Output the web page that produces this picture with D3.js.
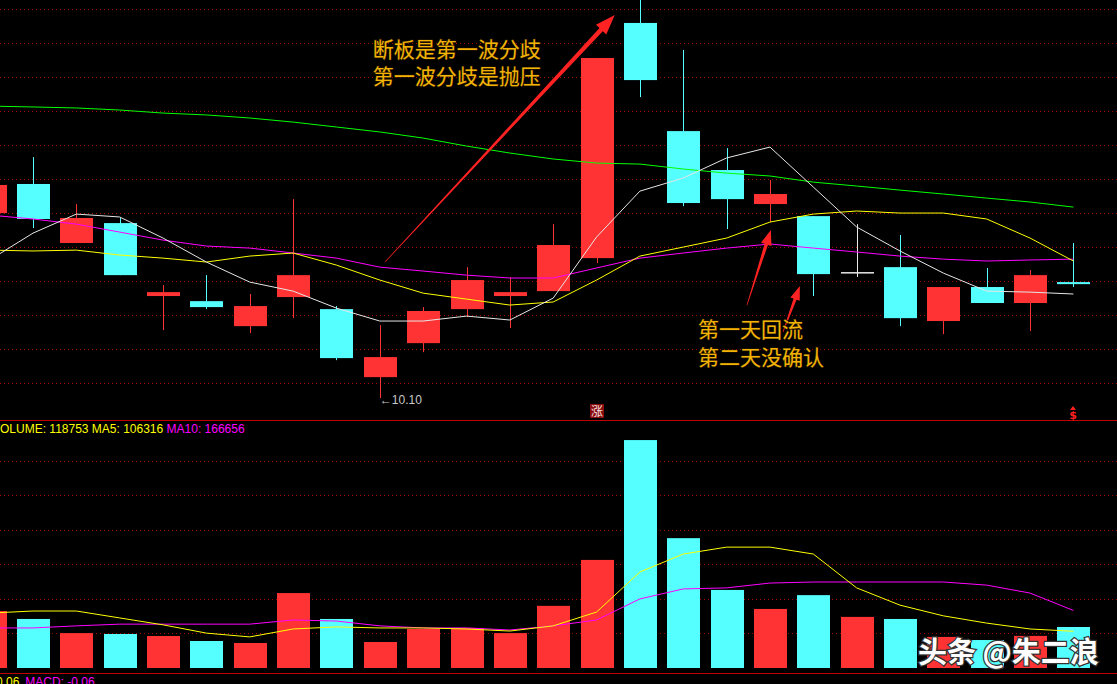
<!DOCTYPE html>
<html><head><meta charset="utf-8">
<script src="https://cdn.jsdelivr.net/npm/d3@7/dist/d3.min.js"></script>
<style>html,body{margin:0;padding:0;background:#000;overflow:hidden}</style>
</head><body><svg id="c" width="1117" height="684"></svg>
<script>
// ---------- DATA ----------
const days   = d3.range(26);
const opens  = [11.188,11.359,11.012,11.129,10.700,10.670,10.523,10.694,10.623,10.223,10.423,10.623,10.700,10.729,10.923,12.306,11.670,11.441,11.241,11.170,10.841,10.870,10.553,10.753,10.659,10.782];
const highs  = [11.382,11.517,11.241,11.159,10.765,10.823,10.712,11.270,10.641,10.529,10.635,10.870,10.812,11.123,12.100,12.470,12.147,11.570,11.382,11.170,11.123,11.059,10.753,10.865,10.853,11.012];
const lows   = [11.170,11.100,11.012,10.823,10.500,10.623,10.482,10.570,10.323,10.100,10.370,10.576,10.512,10.729,10.894,11.870,11.229,11.094,11.135,10.700,10.812,10.523,10.476,10.659,10.494,10.753];
const closes = [11.353,11.153,11.159,10.823,10.723,10.635,10.641,10.823,10.335,10.341,10.612,10.794,10.723,11.000,12.100,11.970,11.247,11.270,11.300,10.829,10.841,10.570,10.753,10.659,10.823,10.770];
const ma5    = [10.912,11.070,11.182,11.165,11.041,10.900,10.782,10.729,10.629,10.553,10.553,10.582,10.559,10.688,11.047,11.317,11.394,11.512,11.576,11.341,11.106,10.965,10.835,10.729,10.723,10.712];
const ma10   = [10.970,10.965,10.970,10.941,10.923,10.900,10.935,10.953,10.882,10.794,10.717,10.682,10.647,10.665,10.794,10.935,10.988,11.041,11.135,11.182,11.200,11.188,11.188,11.153,11.041,10.906];
const ma20   = [11.176,11.153,11.123,11.076,11.029,10.994,10.982,10.953,10.923,10.870,10.847,10.823,10.806,10.806,10.865,10.923,10.953,10.982,11.006,10.982,10.959,10.935,10.917,10.906,10.912,10.917];
const ma60   = [11.817,11.812,11.806,11.794,11.776,11.765,11.747,11.723,11.694,11.665,11.629,11.582,11.541,11.506,11.482,11.476,11.447,11.423,11.406,11.370,11.347,11.323,11.300,11.276,11.253,11.223];
const volumes = [165000,142000,101000,98500,92700,78200,72400,217000,142000,75300,113000,116000,101000,180000,313000,660000,376000,226000,171000,211000,148000,142000,90000,81000,93000,118753];
const volMa5  = [159000,165000,165000,145000,125000,101000,90000,113000,119000,116000,116000,113000,107000,122000,162000,278000,330000,350000,350000,330000,232000,182000,151000,130000,113000,106316];
const volMa10 = [116000,116000,122000,127000,127000,127000,127000,139000,136000,122000,116000,116000,110000,122000,139000,200000,229000,232000,246000,249000,249000,249000,249000,240000,217000,166656];
const priceGrid = [10.19,10.39,10.59,10.79,10.99,11.19,11.39,11.59,11.79,11.99,12.19,12.39];
const volGrid   = [100000,200000,300000,400000,500000,600000];
const lowLabel = "10.10";
const volLegend = {vol:"118753", ma5:"106316", ma10:"166656"};
const macdLegend = {a:"0.06", macd:"-0.06"};
const notes = [
  {lines:["断板是第一波分歧","第一波分歧是抛压"], i:8.84, p:12.106},
  {lines:["第一天回流","第二天没确认"], i:16.34, p:10.459}
];
const arrows = [
  {from:[9.12,10.90], to:[14.42,12.353]},
  {from:[17.47,10.647], to:[18.02,11.088]},
  {from:[18.30,10.488], to:[18.69,10.759]}
];
const watermark = "头条 @朱二浪";

// ---------- SCALES ----------
const W = 1117, H = 684;
const RED = "#ff3333", CYAN = "#55ffff";
const x = d3.scaleLinear().domain([0,25]).range([-10.35, 1073.4]);
const y = d3.scaleLinear().domain([9.971, 12.441]).range([420, 0]);
const yv = d3.scaleLinear().domain([0, 600000]).range([668, 460.8]);
const bw = 33;

const svg = d3.select("#c");
svg.append("rect").attr("width",W).attr("height",H).attr("fill","#000");

// grids
svg.append("g").selectAll("line").data(priceGrid).join("line")
  .attr("x1",0).attr("x2",W).attr("y1",d=>Math.round(y(d))+0.5).attr("y2",d=>Math.round(y(d))+0.5)
  .attr("stroke","#a00000").attr("stroke-dasharray","1,3");
svg.append("g").selectAll("line").data(volGrid).join("line")
  .attr("x1",0).attr("x2",W).attr("y1",d=>Math.round(yv(d))+0.5).attr("y2",d=>Math.round(yv(d))+0.5)
  .attr("stroke","#a00000").attr("stroke-dasharray","1,3");

// separators
svg.append("line").attr("x1",0).attr("x2",W).attr("y1",420.5).attr("y2",420.5).attr("stroke","#c00000");
svg.append("line").attr("x1",0).attr("x2",W).attr("y1",673.5).attr("y2",673.5).attr("stroke","#c00000");

// candle colors
const candleColor = i => closes[i] > opens[i] ? RED : (closes[i] < opens[i] ? CYAN : "#e8e8e8");
const volColor = i => closes[i] > opens[i] ? RED : (closes[i] < opens[i] ? CYAN : (i>0 && closes[i] >= closes[i-1] ? RED : CYAN));

const gC = svg.append("g");
gC.selectAll("line").data(days).join("line")
  .attr("x1",i=>Math.round(x(i))+0.5).attr("x2",i=>Math.round(x(i))+0.5)
  .attr("y1",i=>y(highs[i])).attr("y2",i=>y(lows[i]))
  .attr("stroke",candleColor).attr("stroke-width",1);
gC.selectAll("rect").data(days).join("rect")
  .attr("x",i=>Math.round(x(i))-16).attr("width",bw)
  .attr("y",i=>y(Math.max(opens[i],closes[i])))
  .attr("height",i=>Math.max(1.5, Math.abs(y(opens[i])-y(closes[i]))))
  .attr("fill",candleColor);

// MA lines
const line = arr => d3.line().x((d,i)=>x(i)).y(d=>y(d))(arr);
[[ma60,"#00ff00"],[ma20,"#ff00ff"],[ma10,"#ffff00"],[ma5,"#e6e6e6"]].forEach(([a,c])=>{
  svg.append("path").attr("d",line(a)).attr("fill","none").attr("stroke",c).attr("stroke-width",1);
});

// volume bars
svg.append("g").selectAll("rect").data(days).join("rect")
  .attr("x",i=>Math.round(x(i))-16).attr("width",bw)
  .attr("y",i=>yv(volumes[i])).attr("height",i=>yv(0)-yv(volumes[i]))
  .attr("fill",volColor);
const vline = arr => d3.line().x((d,i)=>x(i)).y(d=>yv(d))(arr);
svg.append("path").attr("d",vline(volMa10)).attr("fill","none").attr("stroke","#ff00ff");
svg.append("path").attr("d",vline(volMa5)).attr("fill","none").attr("stroke","#ffff00");

// arrows
function arrowPath(t, p, w0, w1, hl, hw){
  const dx=p[0]-t[0], dy=p[1]-t[1], L=Math.hypot(dx,dy), ux=dx/L, uy=dy/L, nx=-uy, ny=ux;
  const b=[p[0]-ux*hl, p[1]-uy*hl];
  const pts=[[t[0]+nx*w0/2,t[1]+ny*w0/2],[b[0]+nx*w1/2,b[1]+ny*w1/2],[b[0]+nx*hw,b[1]+ny*hw],p,
             [b[0]-nx*hw,b[1]-ny*hw],[b[0]-nx*w1/2,b[1]-ny*w1/2],[t[0]-nx*w0/2,t[1]-ny*w0/2]];
  return "M"+pts.map(q=>q.join(",")).join("L")+"Z";
}
const arrowStyle = [[0.6,4.5,20,7],[0.6,3.5,15,5.5],[0.6,3.2,14,5]];
arrows.forEach((a,k)=>{
  const s=arrowStyle[k];
  svg.append("path").attr("d",arrowPath([x(a.from[0]),y(a.from[1])],[x(a.to[0]),y(a.to[1])],...s))
    .attr("fill","#ff2222");
});

// annotation texts
notes.forEach(n=>{
  n.lines.forEach((t,j)=>{
    svg.append("text").attr("x",x(n.i)).attr("y",y(n.p)+j*27.5)
      .attr("font-family","'Noto Sans CJK SC', sans-serif").attr("font-size",21)
      .attr("fill","#f2b305").attr("stroke","#2a1c00").attr("stroke-width",1.2).attr("paint-order","stroke")
      .text(t);
  });
});

// low label
svg.append("text").attr("x",x(9)).attr("y",y(lows[9])+6)
  .attr("font-family","'Liberation Sans', 'DejaVu Sans', sans-serif").attr("font-size",12)
  .attr("fill","#c8c8c8").text("←"+lowLabel);

// limit-up icon
const ix = Math.round(x(14));
svg.append("rect").attr("x",ix-7).attr("y",404).attr("width",14).attr("height",14).attr("fill","#8a0c0c");
svg.append("text").attr("x",ix).attr("y",416).attr("text-anchor","middle")
  .attr("font-family","'Noto Sans CJK SC', sans-serif").attr("font-size",12).attr("fill","#f4e0e0").text("涨");

// $ marker
const sx = Math.round(x(25));
svg.append("path").attr("d",`M${sx-3},${410}L${sx},${406}L${sx+3},${410}Z`).attr("fill","#ff2020");
svg.append("text").attr("x",sx).attr("y",419).attr("text-anchor","middle")
  .attr("font-family","'DejaVu Sans', sans-serif").attr("font-weight","bold").attr("font-size",11).attr("fill","#ff2020").text("$");

// volume legend
const vl = svg.append("text").attr("x",-8).attr("y",433)
  .attr("font-family","'Liberation Sans', 'DejaVu Sans', sans-serif").attr("font-size",12);
vl.append("tspan").attr("fill","#ffff00").text(`VOLUME: ${volLegend.vol}  MA5: ${volLegend.ma5} `);
vl.append("tspan").attr("fill","#ff00ff").text(` MA10: ${volLegend.ma10}`);

// macd legend
const ml = svg.append("text").attr("x",-4).attr("y",686)
  .attr("font-family","'Liberation Sans', 'DejaVu Sans', sans-serif").attr("font-size",12);
ml.append("tspan").attr("fill","#ffff00").text(macdLegend.a);
ml.append("tspan").attr("fill","#ff00ff").attr("dx",6).text(`MACD: ${macdLegend.macd}`);

// watermark
svg.append("text").attr("x",918).attr("y",663)
  .attr("font-family","'Noto Sans CJK SC', sans-serif").attr("font-weight","bold").attr("font-size",29)
  .attr("fill","#ffffff").attr("stroke","#333").attr("stroke-width",2.5).attr("paint-order","stroke")
  .text(watermark);
</script></body></html>
